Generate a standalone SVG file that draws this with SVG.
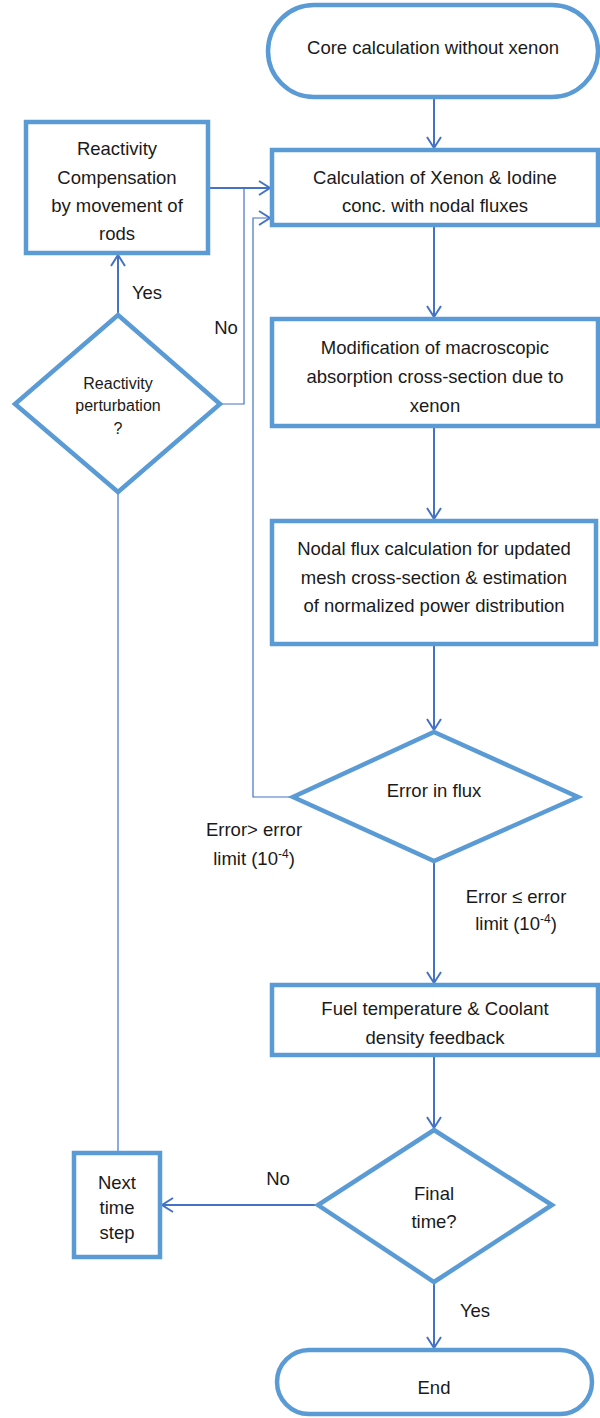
<svg xmlns="http://www.w3.org/2000/svg" width="600" height="1418" viewBox="0 0 600 1418">
  <style>
    .box { fill: #ffffff; stroke: #5B9BD5; stroke-width: 4.5; }
    .t { font-family: "Liberation Sans", Arial, sans-serif; font-size: 18.5px; fill: #1a1a1a; text-anchor: middle; }
    .s { font-size: 16px; }
    .c { fill: none; stroke: #4472C4; stroke-width: 2; }
    .thin { fill: none; stroke: #4472C4; stroke-width: 1.2; }
  </style>
  <defs>
    <marker id="arr" viewBox="0 0 12 14" refX="11" refY="7" markerWidth="12" markerHeight="14" markerUnits="userSpaceOnUse" orient="auto" overflow="visible">
      <path d="M0,0 L11,7 L0,14" fill="none" stroke="#4472C4" stroke-width="2"/>
    </marker>
  </defs>
  <rect width="600" height="1418" fill="#ffffff"/>

  <!-- connectors -->
  <g id="connectors">
    <line class="c" x1="434" y1="97" x2="434" y2="148" marker-end="url(#arr)"/>
    <line class="c" x1="208" y1="188" x2="270" y2="188" marker-end="url(#arr)"/>
    <polyline class="thin" points="220,404 244,404 244,188"/>
    <polyline class="thin" points="293,797 253,797 253,218 270,218" marker-end="url(#arr)"/>
    <line class="c" x1="434" y1="225" x2="434" y2="317" marker-end="url(#arr)"/>
    <line class="c" x1="434" y1="426" x2="434" y2="519" marker-end="url(#arr)"/>
    <line class="c" x1="434" y1="644" x2="434" y2="730" marker-end="url(#arr)"/>
    <line class="c" x1="434" y1="861" x2="434" y2="983" marker-end="url(#arr)"/>
    <line class="c" x1="434" y1="1055" x2="434" y2="1128" marker-end="url(#arr)"/>
    <line class="c" x1="118" y1="315" x2="118" y2="255" marker-end="url(#arr)"/>
    <line class="c" x1="318" y1="1205" x2="162" y2="1205" marker-end="url(#arr)"/>
    <line class="thin" x1="118" y1="1153" x2="118" y2="492"/>
    <line class="c" x1="434" y1="1282" x2="434" y2="1348" marker-end="url(#arr)"/>

    <text class="t" x="147" y="299">Yes</text>
    <text class="t" x="226" y="334">No</text>
    <text class="t" x="254" y="836">Error&gt; error</text>
    <text class="t" x="254" y="865">limit (10<tspan dy="-7" font-size="12">-4</tspan><tspan dy="7">)</tspan></text>
    <text class="t" x="516" y="903">Error ≤ error</text>
    <text class="t" x="516" y="930">limit (10<tspan dy="-7" font-size="12">-4</tspan><tspan dy="7">)</tspan></text>
    <text class="t" x="278" y="1185">No</text>
    <text class="t" x="475" y="1317">Yes</text>
  </g>

  <g id="start">
    <rect class="box" x="268" y="5" width="330" height="92" rx="46" ry="46"/>
    <text class="t" x="433" y="54">Core calculation without xenon</text>
  </g>

  <g id="calc-xe-i">
    <rect class="box" x="272" y="150" width="326" height="75"/>
    <text class="t" x="435" y="184">Calculation of Xenon &amp; Iodine</text>
    <text class="t" x="435" y="212">conc. with nodal fluxes</text>
  </g>

  <g id="compensation">
    <rect class="box" x="26" y="122" width="182" height="131"/>
    <text class="t" x="117" y="155">Reactivity</text>
    <text class="t" x="117" y="184">Compensation</text>
    <text class="t" x="117" y="212">by movement of</text>
    <text class="t" x="117" y="240">rods</text>
  </g>

  <g id="perturbation">
    <polygon class="box" points="118,315 220,404 118,492 15,404"/>
    <text class="t s" x="118" y="389">Reactivity</text>
    <text class="t s" x="118" y="411">perturbation</text>
    <text class="t s" x="118" y="434">?</text>
  </g>

  <g id="modification">
    <rect class="box" x="272" y="319" width="326" height="107"/>
    <text class="t" x="435" y="354">Modification of macroscopic</text>
    <text class="t" x="435" y="383">absorption cross-section due to</text>
    <text class="t" x="435" y="412">xenon</text>
  </g>

  <g id="nodal-flux">
    <rect class="box" x="272" y="521" width="324" height="123"/>
    <text class="t" x="434" y="555">Nodal flux calculation for updated</text>
    <text class="t" x="434" y="584">mesh cross-section &amp; estimation</text>
    <text class="t" x="434" y="612">of normalized power distribution</text>
  </g>

  <g id="error-check">
    <polygon class="box" points="434,732 578,797 434,861 293,797"/>
    <text class="t" x="434" y="797">Error in flux</text>
  </g>

  <g id="feedback">
    <rect class="box" x="272" y="985" width="326" height="70"/>
    <text class="t" x="435" y="1015">Fuel temperature &amp; Coolant</text>
    <text class="t" x="435" y="1044">density feedback</text>
  </g>

  <g id="final-time">
    <polygon class="box" points="434,1130 552,1205 434,1282 318,1205"/>
    <text class="t" x="434" y="1200">Final</text>
    <text class="t" x="434" y="1228">time?</text>
  </g>

  <g id="next-step">
    <rect class="box" x="74" y="1153" width="86" height="104"/>
    <text class="t" x="117" y="1189">Next</text>
    <text class="t" x="117" y="1214">time</text>
    <text class="t" x="117" y="1239">step</text>
  </g>

  <g id="end">
    <rect class="box" x="277" y="1350" width="315" height="64" rx="32" ry="32"/>
    <text class="t" x="434" y="1394">End</text>
  </g>
</svg>
